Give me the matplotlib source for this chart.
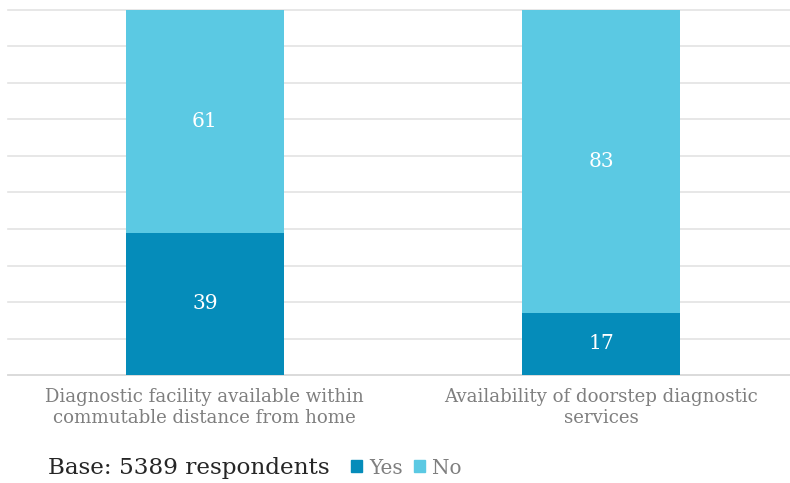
import matplotlib.pyplot as plt
from matplotlib.patches import Patch

# Chart data
categories = ["Diagnostic facility available within\ncommutable distance from home",
              "Availability of doorstep diagnostic\nservices"]
yes_values = [39, 17]
no_values = [61, 83]
series_names = ["Yes", "No"]
base_text = "Base: 5389 respondents"

yes_color = "#058cba"
no_color = "#5bc9e3"

plt.rcParams['font.family'] = ['DejaVu Serif']

fig = plt.figure(figsize=(7.9, 4.83), dpi=100)
ax = fig.add_axes([0.0101, 0.2236, 0.9899, 0.7557])

x = list(range(len(categories)))
bw = 0.4
ax.bar(x, yes_values, width=bw, color=yes_color, zorder=3)
ax.bar(x, no_values, width=bw, bottom=yes_values, color=no_color, zorder=3)

for i in x:
    ax.text(i, yes_values[i] / 2, str(yes_values[i]), ha='center', va='center',
            color='white', fontsize=14.5, zorder=4)
    ax.text(i, yes_values[i] + no_values[i] / 2, str(no_values[i]), ha='center',
            va='center', color='white', fontsize=14.5, zorder=4)

ax.set_ylim(0, 100)
ax.set_xlim(-0.497, 0.477 + 1)
ax.set_yticks(range(0, 101, 10))
ax.yaxis.grid(True, color='#e3e3e3', linewidth=1.2, zorder=0, clip_on=False)
ax.tick_params(axis='y', left=False, labelleft=False)
ax.tick_params(axis='x', bottom=False, colors='#7f7f7f', labelsize=13.1, pad=6)
ax.set_xticks(x)
ax.set_xticklabels(categories, linespacing=1.2)
for s in ['top', 'right', 'left']:
    ax.spines[s].set_visible(False)
ax.spines['bottom'].set_color('#d9d9d9')
ax.spines['bottom'].set_linewidth(1.2)

fig.text(48 / 790, 1 - 468 / 483, base_text, fontsize=16.7, color='#262626',
         va='center', ha='left')
handles = [Patch(color=yes_color, label=series_names[0]),
           Patch(color=no_color, label=series_names[1])]
leg = fig.legend(handles=handles, loc='center left',
                 bbox_to_anchor=(351 / 790, 1 - 468 / 483), ncol=2, frameon=False,
                 fontsize=14.4, handlelength=0.55, handleheight=0.55,
                 handletextpad=0.35, columnspacing=0.55, borderaxespad=0, borderpad=0)
for t in leg.get_texts():
    t.set_color('#7f7f7f')

fig.savefig('out.png', dpi=100)
